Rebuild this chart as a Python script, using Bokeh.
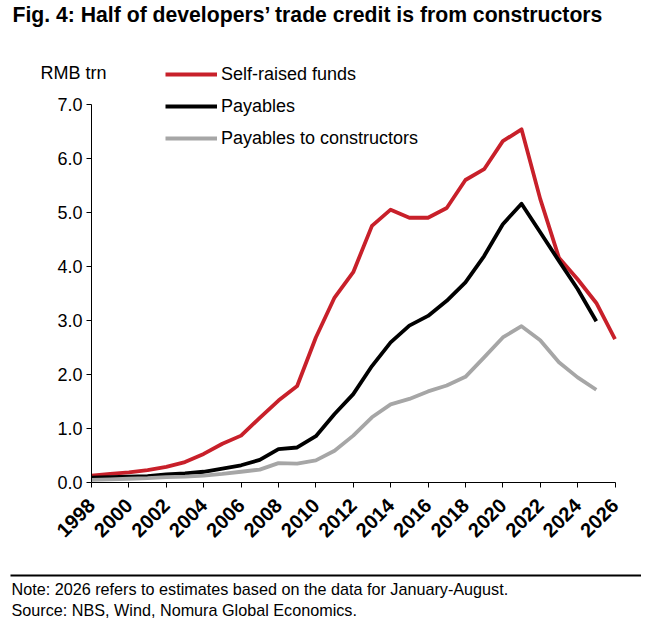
from bokeh.plotting import figure
from bokeh.models import Range1d, FixedTicker, Legend, LegendItem, Label, BoxAnnotation, NumeralTickFormatter
from bokeh.embed import file_html
from bokeh.resources import INLINE
import math

# ---- data (RMB trn) ----
years = list(range(1998, 2027))
self_raised = [0.12, 0.15, 0.18, 0.22, 0.28, 0.37, 0.52, 0.71, 0.86, 1.19,
               1.51, 1.78, 2.68, 3.42, 3.89, 4.75, 5.05, 4.90, 4.90, 5.08,
               5.60, 5.80, 6.32, 6.54, 5.25, 4.16, 3.76, 3.32, 2.65]
years_pay = list(range(1998, 2026))
payables = [0.08, 0.09, 0.10, 0.11, 0.14, 0.16, 0.19, 0.25, 0.31, 0.41,
            0.61, 0.64, 0.85, 1.26, 1.63, 2.15, 2.59, 2.90, 3.08, 3.36,
            3.70, 4.19, 4.78, 5.16, 4.63, 4.10, 3.58, 2.98]
payables_constructors = [0.04, 0.05, 0.06, 0.07, 0.09, 0.10, 0.12, 0.15, 0.19, 0.23,
                         0.35, 0.34, 0.40, 0.58, 0.86, 1.20, 1.44, 1.54, 1.68, 1.79,
                         1.95, 2.31, 2.68, 2.89, 2.63, 2.22, 1.94, 1.71]
series_names = ["Self-raised funds", "Payables", "Payables to constructors"]
x_ticks = list(range(1998, 2027, 2))
y_ticks = [0, 1, 2, 3, 4, 5, 6, 7]

title_text = "Fig. 4: Half of developers\u2019 trade credit is from constructors"
unit_text = "RMB trn"
note_text = "Note: 2026 refers to estimates based on the data for January-August."
source_text = "Source: NBS, Wind, Nomura Global Economics."

# ---- style / layout ----
RED = "#C8202A"
BLACK = "#000000"
GREY = "#A6A6A6"
SANS = "Liberation Sans, Arial, sans-serif"
NARROW = "Liberation Sans Narrow, Arial Narrow, Liberation Sans, sans-serif"

W, H = 641, 620
AX_L, AX_R = 91.0, 614.5      # pixel x of first / last year
AX_B, AX_T = 481.5, 104.0     # pixel y of 0 and 7
X0, X1 = 1998, 2026
Y0, Y1 = 0, 7
px_x = (AX_R - AX_L) / (X1 - X0)
px_y = (AX_B - AX_T) / (Y1 - Y0)
x_start = X0 - AX_L / px_x
x_end = X1 + (W - AX_R) / px_x
y_start = Y0 - (H - AX_B) / px_y
y_end = Y0 + AX_B / px_y

p = figure(width=W, height=H, output_backend="svg", toolbar_location=None,
           title=None,
           x_range=Range1d(x_start, x_end), y_range=Range1d(y_start, y_end),
           min_border=0)
p.outline_line_color = None
p.xgrid.visible = False
p.ygrid.visible = False
p.background_fill_color = "white"
p.border_fill_color = "white"

r1 = p.line(years, self_raised, line_color=RED, line_width=3.8, line_join="round")
r2 = p.line(years_pay, payables, line_color=BLACK, line_width=3.8, line_join="round")
r3 = p.line(years_pay, payables_constructors, line_color=GREY, line_width=3.8, line_join="round")

# axes
xa = p.xaxis[0]
xa.fixed_location = Y0
xa.bounds = (X0, X1)
xa.ticker = FixedTicker(ticks=x_ticks)
xa.major_label_orientation = math.pi / 4
xa.major_label_text_font = SANS
xa.major_label_text_font_style = "bold"
xa.major_label_text_font_size = "20px"
xa.major_label_text_color = "black"
xa.major_tick_out = 5
xa.major_tick_in = 0
xa.minor_tick_out = 0
xa.minor_tick_in = 0
xa.axis_line_color = "black"
xa.major_tick_line_color = "black"
xa.major_label_standoff = 15

ya = p.yaxis[0]
ya.fixed_location = X0
ya.bounds = (Y0, Y1)
ya.ticker = FixedTicker(ticks=y_ticks)
ya.formatter = NumeralTickFormatter(format="0.0")
ya.major_label_text_font = SANS
ya.major_label_text_font_size = "18px"
ya.major_label_text_color = "black"
ya.major_tick_out = 5
ya.major_tick_in = 0
ya.minor_tick_out = 0
ya.minor_tick_in = 0
ya.axis_line_color = "black"
ya.major_tick_line_color = "black"
ya.major_label_standoff = 4

# legend (screen units: from frame left / frame bottom)
leg_left, leg_top = 165, 62
leg_h = 3 * 24 + 2 * 8
legend = Legend(items=[LegendItem(label=series_names[0], renderers=[r1]),
                       LegendItem(label=series_names[1], renderers=[r2]),
                       LegendItem(label=series_names[2], renderers=[r3])],
                location=(leg_left, H - leg_top - leg_h), orientation="vertical",
                glyph_width=52, glyph_height=24, label_height=24, spacing=8,
                label_standoff=4, padding=0, margin=0,
                border_line_color=None, background_fill_alpha=0,
                label_text_font=SANS, label_text_font_size="18px",
                label_text_color="black")
p.add_layout(legend, "center")

def screen_label(x, y_from_top, text, font, size, style="normal"):
    return Label(x=x, y=H - y_from_top, x_units="screen", y_units="screen", text=text,
                 text_font=font, text_font_style=style, text_font_size=size,
                 text_baseline="middle", text_align="left", text_color="black")

p.add_layout(screen_label(12, 14, title_text, NARROW, "21.2px", "bold"))
p.add_layout(screen_label(40, 72, unit_text, SANS, "18px"))
p.add_layout(screen_label(11, 588, note_text, NARROW, "16.2px"))
p.add_layout(screen_label(11, 609, source_text, NARROW, "16.2px"))
p.add_layout(BoxAnnotation(left=10, right=W, top=H - 574, bottom=H - 576,
                           left_units="screen", right_units="screen",
                           top_units="screen", bottom_units="screen",
                           fill_color="black", fill_alpha=1, line_color=None))

open("out.html", "w").write(file_html(p, INLINE))
